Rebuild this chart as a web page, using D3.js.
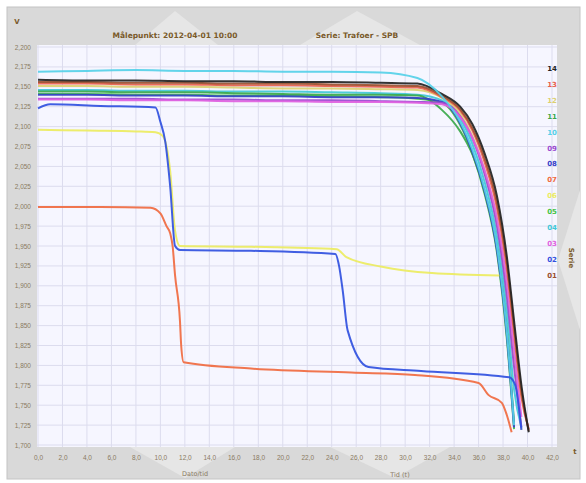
<!DOCTYPE html>
<html><head><meta charset="utf-8">
<script src="https://cdn.jsdelivr.net/npm/d3@7"></script>
<style>body{margin:0;background:#fff;}svg{display:block;font-family:"DejaVu Sans",sans-serif;}</style>
</head><body><svg id="c" width="586" height="483"></svg>
<script>
// ---------- data ----------
const titleLeft = "Målepunkt: 2012-04-01 10:00";
const titleRight = "Serie: Trafoer - SPB";
const xTitleLeft = "Dato/tid";
const xTitleRight = "Tid (t)";
const legendTitle = "Serie";
const yTicks = d3.range(0, 21).map(i => +(1.7 + i * 0.025).toFixed(3));
const xTicks = d3.range(0, 22).map(i => i * 2);

const seriesNames = ["14","13","12","11","10","09","08","07","06","05","04","03","02","01"];
const seriesColors = ["#222222","#e8604c","#dcd070","#3aa84a","#55d0e8","#9a4ad0","#3540c8","#f06a40","#ecec60","#44c444","#40c8d8","#e060e0","#3050e0","#9a5030"];

// shared time axis for the main cluster
const timeMain = [0, 4, 8, 12, 16, 20, 24, 28, 31, 33, 34.5, 35.5, 36.5, 37.5, 38.3, 38.9, 39.5, 40.1];
const v14 = [2.159,2.158,2.158,2.157,2.157,2.156,2.156,2.155,2.154,2.141,2.125,2.103,2.066,2.013,1.938,1.856,1.775,1.716];
const v13 = [2.154,2.154,2.153,2.153,2.152,2.152,2.151,2.150,2.149,2.137,2.120,2.095,2.055,1.998,1.922,1.840,1.760,1.720];
const v12 = [2.151,2.151,2.150,2.150,2.149,2.148,2.148,2.147,2.146,2.136,2.116,2.088,2.044,1.981,1.894,1.806,1.719,null];
const v11 = [2.144,2.144,2.143,2.143,2.142,2.141,2.140,2.140,2.139,2.121,2.094,2.065,2.018,1.948,1.845,1.728,null,null];
const v10 = [2.169,2.170,2.171,2.170,2.170,2.169,2.169,2.168,2.161,2.138,2.106,2.071,2.021,1.950,1.844,1.725,null,null];
const v09 = [2.135,2.135,2.135,2.134,2.134,2.133,2.133,2.132,2.131,2.130,2.113,2.085,2.040,1.975,1.888,1.798,1.722,null];
const v08 = [2.140,2.140,2.139,2.139,2.138,2.138,2.137,2.137,2.136,2.131,2.104,2.068,2.018,1.945,1.840,1.722,null,null];
const v05 = [2.141,2.141,2.140,2.140,2.139,2.139,2.138,2.137,2.135,2.130,2.102,2.066,2.015,1.942,1.835,1.720,null,null];
const v04 = [2.146,2.146,2.145,2.145,2.144,2.144,2.143,2.142,2.140,2.133,2.110,2.078,2.030,1.962,1.870,1.770,1.722,null];
const v03 = [2.134,2.134,2.133,2.133,2.132,2.132,2.131,2.131,2.130,2.128,2.112,2.086,2.045,1.985,1.905,1.820,1.735,null];
const v01 = [2.156,2.156,2.155,2.155,2.154,2.154,2.153,2.152,2.151,2.139,2.122,2.098,2.060,2.005,1.930,1.848,1.768,1.718];

// series 06 (yellow)
const time06 = [0, 4, 8, 9.6, 10.2, 10.8, 11.2, 11.6, 17.4, 24.4, 25.2, 28.1, 32.2, 37.7];
const v06 = [2.096, 2.095, 2.094, 2.093, 2.088, 2.044, 1.969, 1.950, 1.949, 1.946, 1.936, 1.924, 1.916, 1.913];
// series 02 (blue)
const time02 = [0, 1.0, 5.1, 9.6, 10.0, 10.4, 10.8, 11.2, 11.6, 17.4, 24.3, 24.6, 24.9, 25.3, 27.0, 31.3, 38.5, 39.0, 39.5];
const v02 = [2.123, 2.128, 2.126, 2.124, 2.106, 2.081, 2.025, 1.950, 1.945, 1.944, 1.940, 1.925, 1.894, 1.844, 1.798, 1.793, 1.785, 1.775, 1.719];
// series 07 (orange)
const time07 = [0, 5.1, 9.2, 10.0, 10.5, 10.8, 11.0, 11.2, 11.6, 11.7, 11.9, 17.4, 25.6, 30.8, 36.0, 36.8, 37.9, 38.3, 38.7];
const v07 = [1.999, 1.999, 1.998, 1.991, 1.975, 1.966, 1.950, 1.913, 1.856, 1.825, 1.804, 1.796, 1.791, 1.788, 1.778, 1.763, 1.753, 1.738, 1.716];

const seriesData = {
  "14": [timeMain, v14], "13": [timeMain, v13], "12": [timeMain, v12], "11": [timeMain, v11],
  "10": [timeMain, v10], "09": [timeMain, v09], "08": [timeMain, v08], "07": [time07, v07],
  "06": [time06, v06], "05": [timeMain, v05], "04": [timeMain, v04], "03": [timeMain, v03],
  "02": [time02, v02], "01": [timeMain, v01]
};
// drawing order (back to front)
const drawOrder = ["12","04","05","11","08","09","03","13","01","14","10","07","06","02"];

// ---------- drawing ----------
const svg = d3.select("#c");
const comma = s => s.replace(".", ",");
const x = d3.scaleLinear().domain([0, 42]).range([38, 552]);
const y = d3.scaleLinear().domain([1.7, 2.2]).range([445, 47]);

// frame
svg.append("rect").attr("x", 7).attr("y", 7).attr("width", 573).attr("height", 472)
  .attr("fill", "#d9d9d9").attr("stroke", "#c4c4c4");
// faint decorative tabs
const deco = [
  [[135,45],[175,11],[218,45]], [[300,45],[357,11],[420,45]],
  [[130,447],[235,447],[185,478]], [[330,447],[450,447],[395,478]],
  [[580,190],[580,330],[558,260]]
];
deco.forEach(p => svg.append("polygon").attr("points", p.map(q => q.join(",")).join(" "))
  .attr("fill", "#e6e6e6"));

// plot background
svg.append("rect").attr("x", 37).attr("y", 45).attr("width", 520).attr("height", 402).attr("fill", "#f6f6ff");

// grid
svg.append("g").selectAll("line").data(xTicks).join("line")
  .attr("x1", d => x(d)).attr("x2", d => x(d)).attr("y1", 45).attr("y2", 447)
  .attr("stroke", "#dcdcee").attr("stroke-width", 1);
svg.append("g").selectAll("line").data(yTicks).join("line")
  .attr("x1", 37).attr("x2", 557).attr("y1", d => y(d)).attr("y2", d => y(d))
  .attr("stroke", "#dcdcee").attr("stroke-width", 1);

// axes (labels only)
const yAxis = d3.axisLeft(y).tickValues(yTicks).tickSize(0).tickFormat(d => comma(d3.format(".3f")(d)));
const gy = svg.append("g").attr("transform", "translate(35,0)").call(yAxis);
gy.select(".domain").remove();
gy.selectAll("text").attr("fill", "#8a7a62").attr("font-size", 6.5).attr("dx", -1);

const xAxis = d3.axisBottom(x).tickValues(xTicks).tickSize(0).tickFormat(d => comma(d3.format(".1f")(d)));
const gx = svg.append("g").attr("transform", "translate(0,452)").call(xAxis);
gx.select(".domain").remove();
gx.selectAll("text").attr("fill", "#8a7a62").attr("font-size", 6.5);

// lines
const line = d3.line().defined(d => d[1] != null).curve(d3.curveMonotoneX)
  .x(d => x(d[0])).y(d => y(d[1]));
drawOrder.forEach(name => {
  const [t, v] = seriesData[name];
  const pts = t.map((tt, i) => [tt, v[i]]);
  svg.append("path").datum(pts).attr("d", line).attr("fill", "none")
    .attr("stroke", seriesColors[seriesNames.indexOf(name)]).attr("stroke-width", 2)
    .attr("stroke-linejoin", "round").attr("opacity", 0.92);
});

// legend
svg.append("g").selectAll("text").data(seriesNames).join("text")
  .attr("x", 552).attr("y", (d, i) => 71 + i * 15.9).attr("text-anchor", "middle")
  .attr("font-size", 7).attr("font-weight", "bold")
  .attr("fill", (d, i) => seriesColors[i]).text(d => d);
svg.append("text").attr("transform", "translate(569,258) rotate(90)").attr("text-anchor", "middle")
  .attr("font-size", 7).attr("font-weight", "bold").attr("fill", "#7a5a2a").text(legendTitle);

// titles
svg.append("text").attr("x", 175).attr("y", 38).attr("text-anchor", "middle").attr("font-size", 7.5)
  .attr("font-weight", "bold").attr("fill", "#7a5a2a").text(titleLeft);
svg.append("text").attr("x", 357).attr("y", 38).attr("text-anchor", "middle").attr("font-size", 7.5)
  .attr("font-weight", "bold").attr("fill", "#7a5a2a").text(titleRight);
svg.append("text").attr("x", 195).attr("y", 476).attr("text-anchor", "middle").attr("font-size", 6.5)
  .attr("fill", "#8a7a62").text(xTitleLeft);
svg.append("text").attr("x", 400).attr("y", 477).attr("text-anchor", "middle").attr("font-size", 6.5)
  .attr("fill", "#8a7a62").text(xTitleRight);
svg.append("text").attr("x", 17).attr("y", 24).attr("text-anchor", "middle").attr("font-size", 7)
  .attr("font-weight", "bold").attr("fill", "#7a5a2a").text("V");
svg.append("text").attr("x", 575).attr("y", 454).attr("text-anchor", "middle").attr("font-size", 7)
  .attr("font-weight", "bold").attr("fill", "#7a5a2a").text("t");
</script></body></html>
